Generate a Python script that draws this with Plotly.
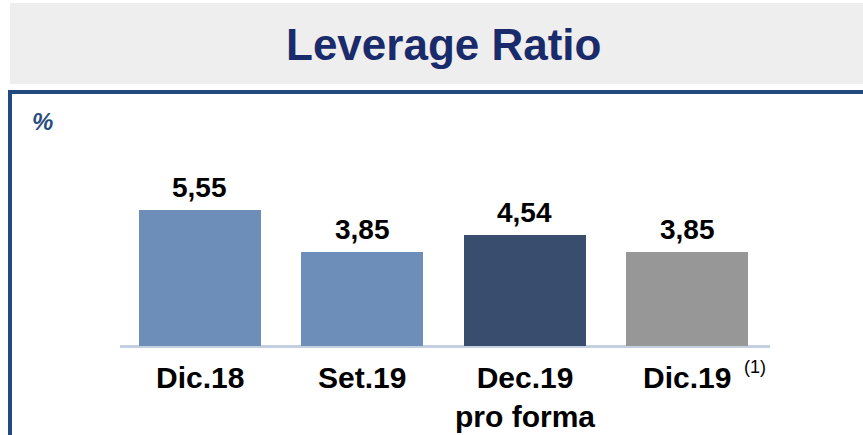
import plotly.graph_objects as go

categories = ["Dic.18", "Set.19", "Dec.19", "Dic.19"]
category_labels = ["Dic.18", "Set.19", "Dec.19<br>pro forma", "Dic.19"]
values = [5.55, 3.85, 4.54, 3.85]
bar_colors = ["#6E8EBA", "#6E8EBA", "#394E6F", "#979797"]
title_text = "Leverage Ratio"
unit_text = "%"
footnote_text = "(1)"

W, H = 863, 435
def px(x):
    return x / W
def py(y):
    return 1 - y / H

FONT = "Liberation Sans, Arial, sans-serif"

fig = go.Figure()
fig.add_trace(go.Bar(
    x=list(range(len(categories))),
    y=values,
    width=0.75,
    marker=dict(color=bar_colors, line=dict(width=0)),
    cliponaxis=False,
    hoverinfo="skip",
))

shapes = [
    dict(type="rect", xref="paper", yref="paper", x0=px(10), x1=px(863), y0=py(84), y1=py(3),
         fillcolor="#EEEEEE", line=dict(width=0), layer="below"),
    dict(type="rect", xref="paper", yref="paper", x0=px(8), x1=px(863), y0=py(94), y1=py(90),
         fillcolor="#214A7E", line=dict(width=0), layer="below"),
    dict(type="rect", xref="paper", yref="paper", x0=px(8), x1=px(12), y0=py(435), y1=py(90),
         fillcolor="#214A7E", line=dict(width=0), layer="below"),
]

annotations = [
    dict(text=f"<b>{title_text}</b>", xref="paper", yref="paper", x=px(443.5), y=py(44),
         xanchor="center", yanchor="middle", showarrow=False,
         font=dict(family=FONT, size=44, color="#1A2B6B")),
    dict(text=f"<b><i>{unit_text}</i></b>", xref="paper", yref="paper", x=px(30), y=py(121),
         xanchor="left", yanchor="middle", showarrow=False,
         font=dict(family=FONT, size=24, color="#2A4D80")),
]
for i, v in enumerate(values):
    annotations.append(dict(text="<b>" + f"{v:.2f}".replace(".", ",") + "</b>",
                            xref="x", yref="y", x=i, y=v, yshift=5,
                            xanchor="center", yanchor="bottom", showarrow=False,
                            font=dict(family=FONT, size=28, color="#000000")))
for i, lab in enumerate(category_labels):
    annotations.append(dict(text=f"<b>{lab}</b>", xref="x", yref="paper", x=i, y=py(359),
                            xanchor="center", yanchor="top", showarrow=False,
                            font=dict(family=FONT, size=30, color="#000000")))
annotations.append(dict(text=footnote_text, xref="x", yref="paper", x=3, xshift=55, y=py(367),
                        xanchor="left", yanchor="middle", showarrow=False,
                        font=dict(family=FONT, size=18, color="#000000")))

y_bottom_px, y_top_px = 346, 100
y_max = (y_bottom_px - y_top_px) / 24.5

fig.update_layout(
    width=W, height=H, autosize=False,
    margin=dict(l=0, r=0, t=0, b=0, pad=0),
    paper_bgcolor="#FFFFFF", plot_bgcolor="rgba(0,0,0,0)",
    showlegend=False,
    bargap=0,
    xaxis=dict(domain=[px(120), px(770)], range=[-0.49, 3.51], showgrid=False, zeroline=False,
               showticklabels=False, ticks="", showline=False, fixedrange=True),
    yaxis=dict(domain=[py(y_bottom_px), py(y_top_px)], range=[0, y_max], showgrid=False,
               zeroline=True, zerolinecolor="#C4CFE2", zerolinewidth=3,
               showticklabels=False, ticks="", showline=False, fixedrange=True),
    shapes=shapes,
    annotations=annotations,
)

fig.write_html("out.html", config={"displayModeBar": False},
               post_script="document.body.style.margin='0';document.body.style.overflow='hidden';")
